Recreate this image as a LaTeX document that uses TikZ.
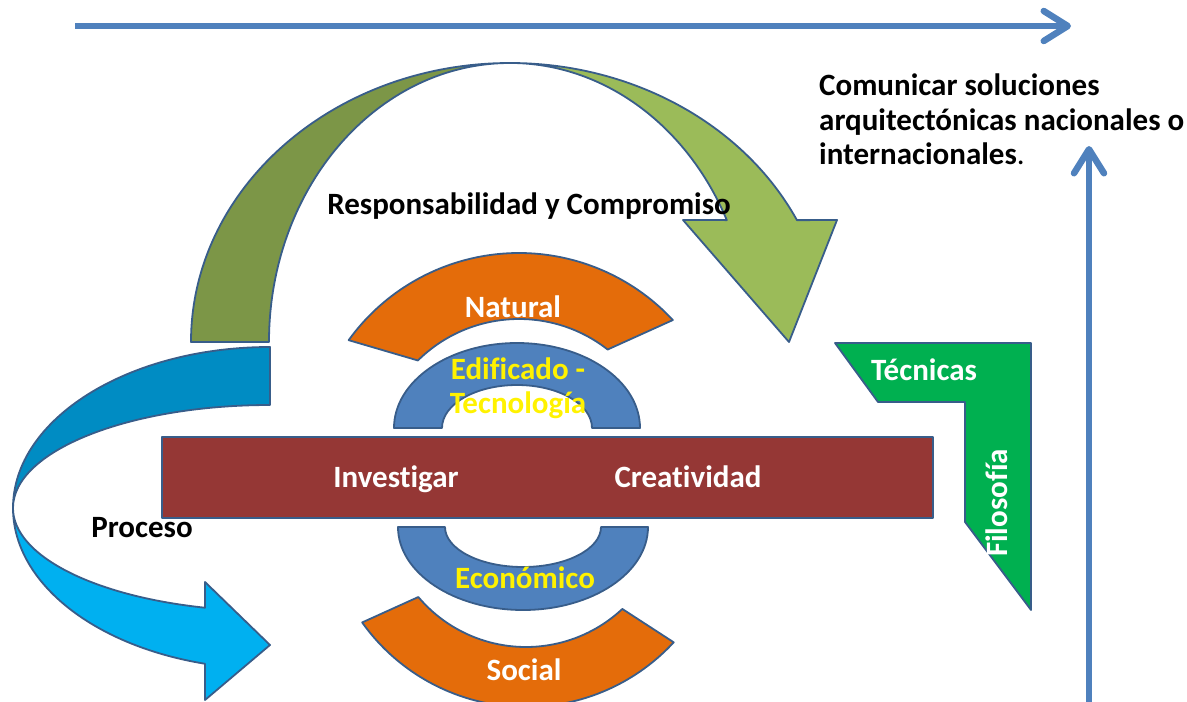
\documentclass[tikz,border=0pt]{standalone}
\usepackage{fontspec}
\setmainfont{Carlito}[Ligatures=NoCommon]
\usepackage{tikz}
\usetikzlibrary{arrows.meta}
\usepackage{xcolor}
\definecolor{edge}{RGB}{56,93,138}
\definecolor{axisblue}{RGB}{79,129,189}
\definecolor{olivedark}{RGB}{124,150,71}
\definecolor{olivelight}{RGB}{155,187,89}
\definecolor{cyandark}{RGB}{0,140,195}
\definecolor{cyanlight}{RGB}{0,176,240}
\definecolor{brick}{RGB}{149,55,53}
\definecolor{tangerine}{RGB}{228,108,10}
\definecolor{steel}{RGB}{79,129,189}
\definecolor{leaf}{RGB}{0,176,80}

\begin{document}
\begin{tikzpicture}[x=1pt, y=-1pt,
    band/.style={draw=edge, line width=1.8pt, line join=round},
    lbl/.style={font=\fontsize{31}{34.5}\selectfont\bfseries, inner sep=0pt, anchor=base},
    axis/.style={draw=axisblue, line width=6.5pt, -{Straight Barb[length=24pt,width=30pt,round]}}]
    \clip (0,0) rectangle (1187,702);
    \coordinate (hstart) at (75,26);
    \coordinate (hend) at (1071,26);
    \coordinate (vstart) at (1089,710);
    \coordinate (vend) at (1089,146);
    \draw[axis] (hstart) -- (hend);
    \draw[axis] (vstart) -- (vend);
    \filldraw[band, fill=olivedark] (191,342) arc[start angle=180, end angle=270, x radius=319, y radius=279]
        arc[start angle=270, end angle=180, x radius=241, y radius=279] -- cycle;
    \filldraw[band, fill=olivelight] (510,63) arc[start angle=270, end angle=334.1, x radius=319, y radius=279]
        -- (837,220) -- (789,342) -- (683,220) -- (726.8,220.1)
        arc[start angle=334.1, end angle=270, x radius=241, y radius=279] -- cycle;
    \filldraw[band, fill=cyandark] (270,347) arc[start angle=270, end angle=180, x radius=257, y radius=161]
        arc[start angle=180, end angle=270, x radius=257, y radius=103] -- cycle;
    \filldraw[band, fill=cyanlight] (13,508) arc[start angle=180, end angle=104.65, x radius=257, y radius=161]
        -- (205,700) -- (270,645) -- (205,582) -- (205,607.7)
        arc[start angle=104.65, end angle=180, x radius=257, y radius=103] -- cycle;
    \filldraw[band, fill=tangerine] ([shift={(519,463)}]215.8:210) arc[start angle=215.8, end angle=317.1, radius=210]
        -- ([shift={(519,463)}]308:144) arc[start angle=308, end angle=225.4, radius=144] -- cycle;
    \filldraw[band, fill=tangerine] ([shift={(526,506)}]144.6:201) arc[start angle=144.6, end angle=42.7, radius=201]
        -- ([shift={(526,506)}]46.9:141) arc[start angle=46.9, end angle=139.8, radius=141] -- cycle;
    \filldraw[band, fill=steel] (394,428) arc[start angle=180, end angle=360, x radius=123, y radius=85]
        -- (592,428) arc[start angle=360, end angle=180, x radius=75, y radius=43] -- cycle;
    \filldraw[band, fill=steel] (398,527) arc[start angle=180, end angle=0, x radius=125, y radius=83]
        -- (601,527) arc[start angle=0, end angle=180, x radius=78, y radius=40] -- cycle;
    \filldraw[band, fill=brick] (162,437) rectangle (933,518);
    \filldraw[band, fill=leaf] (835,343) -- (1031,343) -- (1031,610) -- (965,522) -- (965,402) -- (878,402) -- cycle;
    \node (resp) at (529,214) [lbl] {Responsabilidad y Compromiso};
    \node (goal) at (819,74) [lbl, anchor=north west, align=left] {Comunicar soluciones\\arquitectónicas nacionales o\\internacionales{\mdseries .}};
    \node (proceso) at (142,537) [lbl] {Proceso};
    \node (natural) at (513,317) [lbl, white] {Natural};
    \node (edificado) at (518,388) [lbl, anchor=center, yellow, align=center] {Edificado -\\Tecnología};
    \node (investigar) at (396,487) [lbl, white] {Investigar};
    \node (creatividad) at (688,487) [lbl, white] {Creatividad};
    \node (economico) at (525,588) [lbl, yellow] {Económico};
    \node (social) at (524,680) [lbl, white] {Social};
    \node (tecnicas) at (924,380) [lbl, white] {Técnicas};
    \node (filosofia) at (1007,503) [lbl, white, rotate=90] {Filosofía};
\end{tikzpicture}
\end{document}
